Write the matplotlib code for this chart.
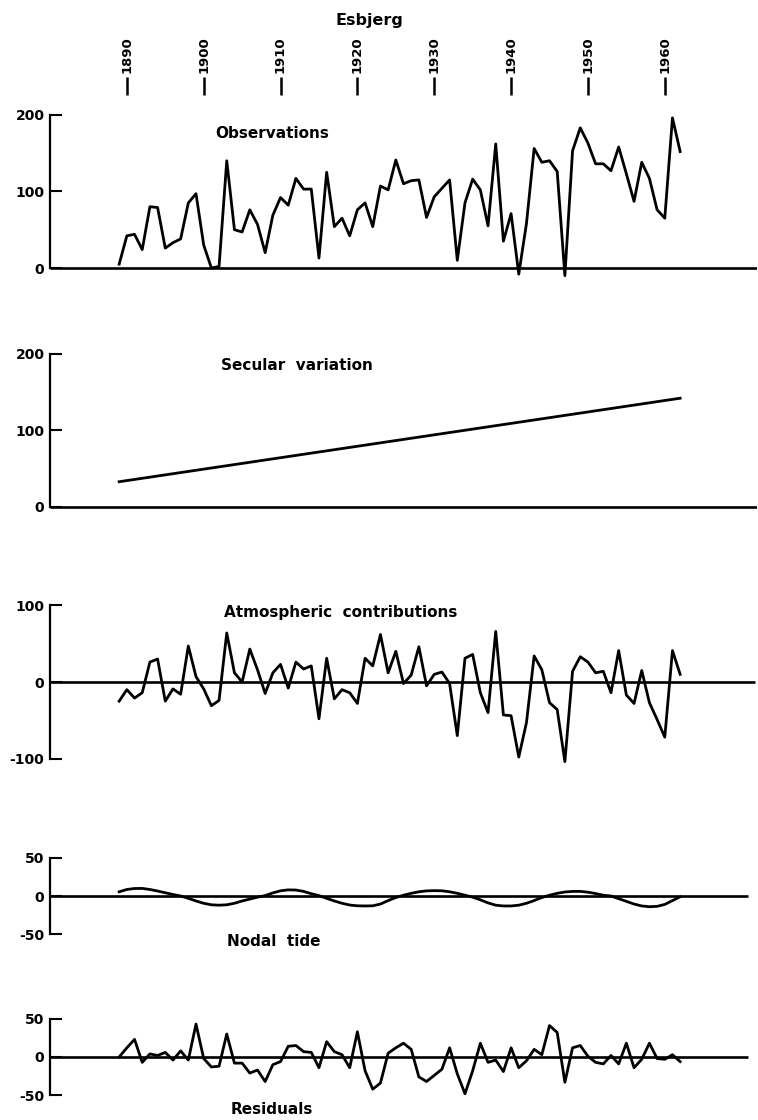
import matplotlib
matplotlib.use('Agg')
import matplotlib.pyplot as plt

# ---------------- data ----------------
years = list(range(1889, 1963))

observations = [5, 42, 44, 24, 80, 79, 26, 33, 38, 85,
                97, 30, 0, 2, 140, 50, 47, 76, 57, 20,
                69, 92, 82, 117, 103, 103, 13, 125, 54, 65,
                42, 76, 85, 54, 107, 102, 141, 110, 114, 115,
                66, 93, 104, 115, 10, 85, 116, 102, 55, 162,
                35, 71, -8, 58, 156, 138, 140, 126, -10, 153,
                183, 163, 136, 136, 127, 158, 123, 87, 138, 117,
                76, 65, 196, 152]

secular_years = [1889, 1962]
secular = [33, 142]

atmospheric = [-25, -10, -21, -14, 26, 30, -25, -9, -16, 47,
               7, -9, -31, -24, 64, 12, 0, 43, 16, -15,
               12, 23, -8, 26, 17, 21, -48, 31, -22, -10,
               -14, -28, 31, 21, 62, 12, 40, -2, 9, 46,
               -5, 10, 13, -2, -70, 31, 36, -14, -40, 66,
               -43, -44, -98, -53, 34, 16, -27, -36, -104, 14,
               33, 26, 12, 14, -14, 41, -17, -28, 15, -27,
               -49, -72, 41, 10]

nodal = [5.5, 8.5, 9.8, 9.9, 8.5, 6.5, 4.2, 2, 0, -3,
         -6.5, -9.5, -11.5, -12, -11.5, -9.5, -6.5, -4, -1.5, 0.5,
         4, 6.8, 8, 7.8, 6, 3, 0.5, -3, -6.5, -9.5,
         -11.8, -12.8, -13, -12.8, -10.5, -6, -2, 1, 3.5, 5.5,
         6.7, 7, 6.8, 5.5, 3.5, 1, -1.5, -5, -9, -12,
         -13, -13, -12, -9.5, -6, -2, 1, 3.5, 5.2, 6,
         6, 5, 3.2, 1, 0, -3.5, -7, -10.5, -13, -14,
         -13.5, -11, -6, -1]

residuals = [0, 12, 23, -7, 4, 2, 6, -4, 8, -4,
             43, -2, -13, -12, 30, -8, -8, -21, -17, -32,
             -10, -6, 14, 15, 7, 6, -14, 20, 7, 3,
             -14, 33, -18, -42, -34, 5, 12, 18, 10, -26,
             -32, -24, -16, 12, -22, -48, -18, 18, -7, -4,
             -19, 12, -14, -5, 10, 3, 41, 32, -33, 12,
             15, 1, -7, -9, 2, -9, 18, -14, -3, 18,
             -2, -3, 3, -6]

decade_ticks = [1890, 1900, 1910, 1920, 1930, 1940, 1950, 1960]
title = "Esbjerg"

# ---------------- figure ----------------
plt.rcParams['font.family'] = ['DejaVu Sans']
plt.rcParams['font.weight'] = 'bold'
plt.rcParams['axes.unicode_minus'] = False

W, H = 758, 1120
fig = plt.figure(figsize=(W / 100, H / 100), dpi=100)

X0, X1 = 1880, 1972
LEFT_PX, RIGHT_PX = 50, 757
SCALE = 0.766  # pixels per unit


def panel(zero_px, ylo, yhi, spine_lo, spine_hi, yticks, zero_end):
    top = zero_px - yhi * SCALE
    bottom = zero_px - ylo * SCALE
    ax = fig.add_axes([LEFT_PX / W, 1 - bottom / H,
                       (RIGHT_PX - LEFT_PX) / W, (bottom - top) / H])
    ax.set_xlim(X0, X1)
    ax.set_ylim(ylo, yhi)
    for s in ('top', 'right', 'bottom'):
        ax.spines[s].set_visible(False)
    ax.spines['left'].set_bounds(spine_lo, spine_hi)
    ax.spines['left'].set_linewidth(1.6)
    ax.set_yticks(yticks)
    ax.set_yticklabels([str(t) for t in yticks])
    ax.tick_params(axis='y', direction='in', length=8.5, width=1.5,
                   labelsize=10, pad=4)
    ax.set_xticks([])
    ax.hlines(0, X0, zero_end, color='black', lw=1.9)
    ax.patch.set_visible(False)
    return ax


def label(x, y, s, size=11):
    fig.text(x / W, 1 - y / H, s, ha='center', va='center',
             fontsize=size, fontweight='bold')


# Observations
ax1 = panel(268, -20, 226, 0, 200, [0, 100, 200], X1)
ax1.plot(years, observations, color='black', lw=2.0)
ax1.xaxis.tick_top()
ax1.set_xticks(decade_ticks)
ax1.set_xticklabels([str(d) for d in decade_ticks])
ax1.tick_params(axis='x', direction='out', length=13, width=1.8,
                labelsize=9.5, pad=3, labelrotation=90)

# Secular variation
ax2 = panel(507, -15, 210, 0, 200, [0, 100, 200], X1)
ax2.plot(secular_years, secular, color='black', lw=2.0)

# Atmospheric contributions
ax3 = panel(682, -115, 115, -100, 100, [-100, 0, 100], 1971.8)
ax3.plot(years, atmospheric, color='black', lw=2.0)

# Nodal tide
ax4 = panel(896, -60, 60, -50, 50, [-50, 0, 50], 1970.8)
ax4.plot(years, nodal, color='black', lw=2.0)

# Residuals
ax5 = panel(1057, -60, 60, -50, 50, [-50, 0, 50], 1970.8)
ax5.plot(years, residuals, color='black', lw=2.0)

# Texts
label(369, 21, title, 11.5)
label(272, 134, "Observations")
label(297, 366, "Secular  variation")
label(341, 612, "Atmospheric  contributions")
label(274, 942, "Nodal  tide")
label(272, 1109, "Residuals")

fig.savefig('out.png', dpi=100)
